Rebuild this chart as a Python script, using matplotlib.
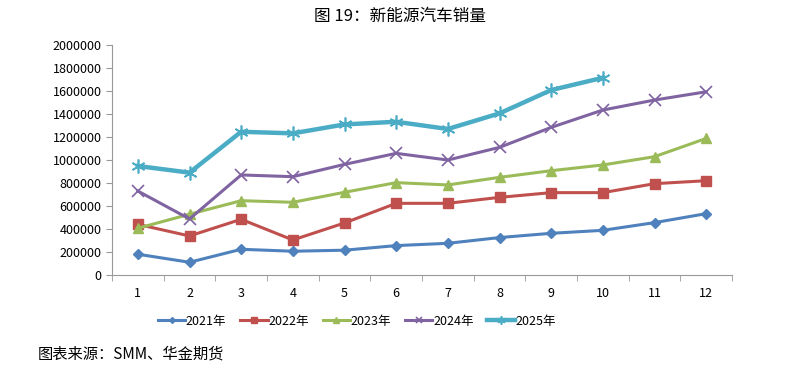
import numpy as np
import matplotlib.pyplot as plt

plt.rcParams['font.family'] = ['Noto Sans CJK SC', 'DejaVu Sans']

months = list(range(1, 13))
sales_2021 = [180000, 110000, 223000, 206000, 215000, 255000, 275000, 325000, 362000, 388000, 455000, 533000]
sales_2022 = [440000, 339000, 484000, 304000, 452000, 623000, 623000, 675000, 716000, 716000, 794000, 820000]
sales_2023 = [406000, 528000, 646000, 632000, 719000, 803000, 783000, 849000, 907000, 957000, 1029000, 1188000]
sales_2024 = [730000, 487000, 870000, 855000, 962000, 1058000, 1000000, 1110000, 1284000, 1435000, 1522000, 1594000]
sales_2025 = [948000, 890000, 1246000, 1232000, 1310000, 1333000, 1270000, 1406000, 1609000, 1716000]

fig = plt.figure(figsize=(8, 3.73), dpi=100)
ax = fig.add_axes([0.14, 0.263, 0.775, 0.616])

ax.plot(months, sales_2021, color='#4F81BD', lw=2.2, marker='D', ms=5, label='2021年')
ax.plot(months, sales_2022, color='#C0504D', lw=2.2, marker='s', ms=7, label='2022年')
ax.plot(months, sales_2023, color='#9BBB59', lw=2.2, marker='^', ms=7, label='2023年')
ax.plot(months, sales_2024, color='#8064A2', lw=2.2, marker='x', ms=8, mew=1.2, label='2024年')
ax.plot(months[:len(sales_2025)], sales_2025, color='#4BACC6', lw=3.2, marker=(6, 2, 0), ms=10, mew=1.2, label='2025年')

ax.set_xlim(0.5, 12.5)
ax.set_ylim(0, 2000000)
ax.set_yticks(np.arange(0, 2000001, 200000))
ax.set_yticklabels([str(v) for v in range(0, 2000001, 200000)], fontsize=9)
ax.set_xticks(months)
ax.set_xticklabels([str(m) for m in months], fontsize=9)
ax.set_xticks(np.arange(0.5, 12.6, 1), minor=True)
ax.tick_params(axis='x', which='major', length=0, pad=9)
ax.tick_params(axis='x', which='minor', length=4, color='#999999')
ax.tick_params(axis='y', length=4, color='#999999')

for s in ['top', 'right']:
    ax.spines[s].set_visible(False)
for s in ['left', 'bottom']:
    ax.spines[s].set_color('#999999')

ax.legend(loc='upper center', bbox_to_anchor=(0.395, -0.125), ncol=5, frameon=False,
          fontsize=9, handlelength=2.2, columnspacing=1.1, handletextpad=0.05,
          markerscale=0.6)

fig.text(0.5, 0.955, '图 19：新能源汽车销量', ha='center', va='center', fontsize=12)
fig.text(0.047, 0.05, '图表来源：SMM、华金期货', ha='left', va='center', fontsize=11)

fig.savefig('out.png', dpi=100)
